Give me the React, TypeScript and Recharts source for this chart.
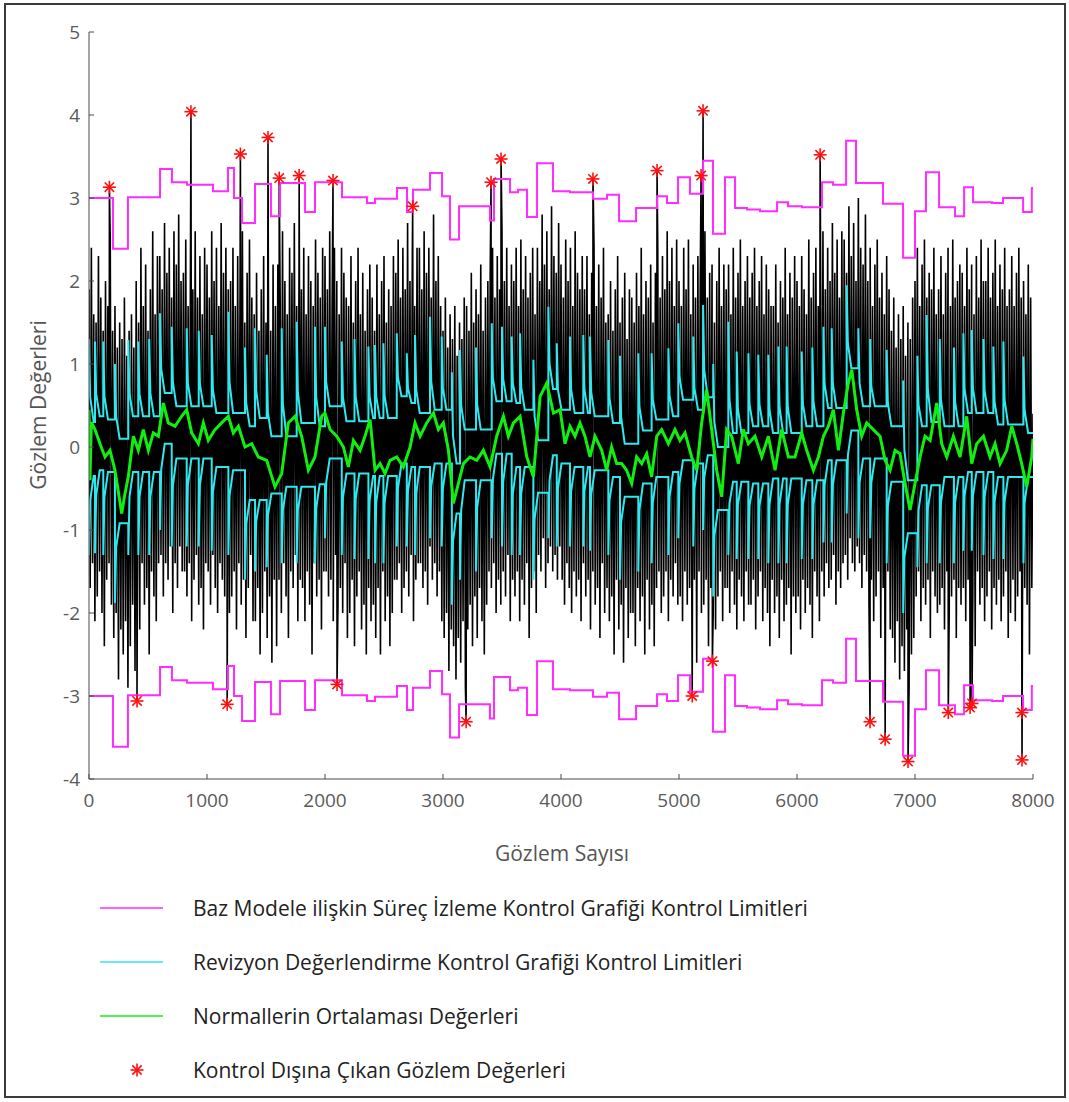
import React from 'react';
import { ComposedChart, Line, Scatter, XAxis, YAxis } from 'recharts';

const xTicks = [0, 1000, 2000, 3000, 4000, 5000, 6000, 7000, 8000];
const yTicks = [-4, -3, -2, -1, 0, 1, 2, 3, 4, 5];

// base model control limits (step changes)
const limitBreaks = [0, 203, 330, 602, 703, 831, 1051, 1178, 1229, 1297, 1407, 1542, 1619, 1831, 1915, 2144, 2356, 2424, 2610, 2695,
  2746, 2890, 2992, 3059, 3136, 3398, 3432, 3568, 3636, 3712, 3797, 3932, 4076, 4271, 4390, 4492, 4636, 4814, 4898, 4992,
  5093, 5204, 5288, 5390, 5475, 5577, 5687, 5831, 5924, 6043, 6212, 6305, 6416, 6500, 6729, 6899, 7000, 7093, 7204, 7339,
  7416, 7492, 7653, 7746, 7916, 7990];
const baseUpper = [3.0, 2.39, 3.01, 3.35, 3.19, 3.16, 3.08, 3.36, 3.0, 2.7, 3.17, 2.78, 3.18, 2.83, 3.19, 3.01, 2.94, 2.99, 3.12, 2.83,
  3.1, 3.3, 3.02, 2.5, 2.9, 2.73, 3.23, 3.07, 3.1, 2.77, 3.42, 3.08, 3.07, 2.99, 3.04, 2.72, 2.88, 3.02, 2.94, 3.25,
  3.05, 3.45, 2.57, 3.25, 2.88, 2.86, 2.84, 2.95, 2.9, 2.89, 3.19, 3.16, 3.69, 3.18, 2.93, 2.28, 2.84, 3.31, 2.89, 2.78,
  3.13, 2.95, 2.94, 3.0, 2.83, 3.12];
const baseLower = [-3.0, -3.61, -2.99, -2.65, -2.81, -2.84, -2.92, -2.64, -3.0, -3.3, -2.83, -3.22, -2.82, -3.17, -2.81, -2.99, -3.06, -3.01, -2.88, -3.17,
  -2.9, -2.7, -2.98, -3.5, -3.1, -3.27, -2.77, -2.93, -2.9, -3.23, -2.58, -2.92, -2.93, -3.01, -2.96, -3.28, -3.12, -2.98, -3.06, -2.75,
  -2.95, -2.55, -3.43, -2.75, -3.12, -3.14, -3.16, -3.05, -3.1, -3.11, -2.81, -2.84, -2.31, -2.82, -3.07, -3.72, -3.16, -2.69, -3.11, -3.22,
  -2.87, -3.05, -3.06, -3.0, -3.17, -2.88];

// revision chart limits: reset points, peak, knee and settled level
const revResetAt = [0, 51, 121, 220, 333, 418, 510, 602, 701, 828, 930, 1040, 1181, 1322, 1407, 1506, 1633, 1760, 1915, 2000,
  2142, 2250, 2368, 2424, 2495, 2608, 2693, 2763, 2890, 2989, 3075, 3144, 3280, 3413, 3500, 3582, 3653, 3766, 3893, 3964,
  4076, 4189, 4246, 4401, 4500, 4655, 4768, 4910, 4994, 5121, 5204, 5290, 5418, 5489, 5588, 5672, 5757, 5842, 5912, 6040,
  6130, 6224, 6294, 6421, 6520, 6620, 6760, 6900, 7020, 7099, 7210, 7330, 7410, 7481, 7580, 7664, 7749, 7919];
const revUpperPeak = [1.3, 1.27, 1.27, 1.0, 1.29, 1.27, 1.3, 1.61, 1.45, 1.43, 1.4, 1.35, 1.63, 1.2, 1.43, 1.11, 1.43, 1.51, 1.45, 1.45,
  1.27, 1.3, 1.21, 1.23, 1.25, 1.37, 1.13, 1.35, 1.57, 1.33, 0.9, 1.17, 1.2, 1.49, 1.45, 1.33, 1.37, 1.05, 1.69, 1.25,
  1.33, 1.35, 1.33, 1.29, 1.1, 1.13, 1.13, 1.19, 1.49, 1.33, 1.71, 1.0, 1.51, 1.15, 1.13, 1.11, 1.11, 1.21, 1.21, 1.15,
  1.2, 1.45, 1.43, 1.95, 1.43, 1.3, 1.17, 0.8, 1.1, 1.59, 1.3, 1.2, 1.37, 1.41, 1.3, 1.21, 1.27, 1.09];
const revUpperKnee = [0.6, 0.64, 0.61, 0.37, 0.65, 0.64, 0.65, 0.94, 0.78, 0.77, 0.76, 0.69, 0.78, 0.53, 0.68, 0.42, 0.52, 0.66, 0.61, 0.78,
  0.6, 0.61, 0.61, 0.61, 0.62, 0.84, 0.71, 0.69, 0.79, 0.71, 0.13, 0.5, 0.51, 0.83, 0.82, 0.77, 0.72, 0.37, 1.0, 0.69,
  0.69, 0.69, 0.66, 0.59, 0.36, 0.48, 0.57, 0.62, 0.85, 0.71, 0.93, 0.3, 0.57, 0.46, 0.51, 0.51, 0.45, 0.48, 0.48, 0.52,
  0.54, 0.76, 0.76, 1.25, 0.77, 0.73, 0.53, -0.04, 0.51, 0.69, 0.57, 0.54, 0.7, 0.71, 0.68, 0.55, 0.57, 0.44];
const revUpperLevel = [0.3, 0.37, 0.33, 0.1, 0.37, 0.37, 0.37, 0.65, 0.49, 0.49, 0.49, 0.41, 0.41, 0.25, 0.35, 0.13, 0.13, 0.29, 0.25, 0.49,
  0.31, 0.31, 0.35, 0.35, 0.35, 0.61, 0.53, 0.41, 0.45, 0.45, -0.2, 0.21, 0.21, 0.55, 0.55, 0.53, 0.45, 0.08, 0.7, 0.45,
  0.41, 0.41, 0.37, 0.29, 0.04, 0.2, 0.33, 0.37, 0.57, 0.45, 0.6, 0.0, 0.17, 0.17, 0.25, 0.25, 0.17, 0.17, 0.17, 0.25,
  0.25, 0.47, 0.47, 0.95, 0.49, 0.49, 0.25, -0.4, 0.25, 0.3, 0.25, 0.25, 0.41, 0.41, 0.41, 0.27, 0.27, 0.17];
const revLowerPeak = [-1.3, -1.28, -1.3, -1.88, -1.3, -1.3, -1.3, -1.0, -1.2, -1.2, -1.2, -1.25, -1.3, -1.6, -1.5, -1.45, -1.4, -1.4, -1.4, -1.1,
  -1.3, -1.35, -1.35, -1.4, -1.4, -1.2, -1.2, -1.3, -1.1, -1.2, -1.9, -1.6, -1.5, -1.1, -1.2, -1.3, -1.3, -1.6, -1.1, -1.2,
  -1.2, -1.2, -1.25, -1.3, -1.6, -1.5, -1.4, -1.3, -1.1, -1.2, -1.0, -1.8, -1.3, -1.35, -1.35, -1.35, -1.4, -1.4, -1.4, -1.35,
  -1.35, -1.15, -1.15, -0.8, -1.1, -1.1, -1.4, -2.0, -1.45, -1.4, -1.4, -1.4, -1.25, -1.25, -1.3, -1.35, -1.35, -1.4];
const revLowerKnee = [-0.64, -0.58, -0.6, -1.21, -0.6, -0.6, -0.6, -0.27, -0.46, -0.46, -0.46, -0.54, -0.59, -0.93, -0.9, -0.83, -0.76, -0.76, -0.74, -0.43,
  -0.61, -0.63, -0.65, -0.67, -0.67, -0.5, -0.53, -0.56, -0.47, -0.5, -1.13, -0.76, -0.73, -0.39, -0.42, -0.56, -0.56, -0.87, -0.4, -0.5,
  -0.53, -0.53, -0.57, -0.64, -0.9, -0.76, -0.67, -0.6, -0.44, -0.5, -0.37, -1.07, -0.68, -0.7, -0.71, -0.71, -0.69, -0.69, -0.69, -0.69,
  -0.69, -0.46, -0.46, -0.1, -0.43, -0.43, -0.71, -1.33, -0.76, -0.74, -0.67, -0.67, -0.59, -0.59, -0.6, -0.66, -0.66, -0.67];
const revLowerLevel = [-0.35, -0.28, -0.3, -0.92, -0.3, -0.3, -0.3, 0.04, -0.14, -0.14, -0.14, -0.24, -0.28, -0.64, -0.64, -0.56, -0.48, -0.48, -0.45, -0.14,
  -0.32, -0.32, -0.35, -0.35, -0.35, -0.2, -0.24, -0.24, -0.2, -0.2, -0.8, -0.4, -0.4, -0.08, -0.08, -0.24, -0.24, -0.55, -0.1, -0.2,
  -0.24, -0.24, -0.28, -0.36, -0.6, -0.44, -0.36, -0.3, -0.16, -0.2, -0.1, -0.76, -0.42, -0.42, -0.44, -0.44, -0.38, -0.38, -0.38, -0.4,
  -0.4, -0.16, -0.16, 0.2, -0.14, -0.14, -0.42, -1.04, -0.46, -0.46, -0.36, -0.36, -0.3, -0.3, -0.3, -0.36, -0.36, -0.36];

// mean of normals [observation, value]
const meanPoints: [number, number][] = [
  [0, 0.45], [8, -0.4], [20, 0.3], [51, 0.21], [93, 0.04], [136, -0.12], [178, -0.04], [220, -0.28], [250, -0.55], [277, -0.8],
  [300, -0.6], [333, -0.36], [376, 0.13], [418, -0.04], [460, 0.21], [503, -0.04], [545, 0.17], [588, 0.13], [630, 0.53], [672, 0.29],
  [729, 0.25], [785, 0.37], [828, 0.45], [870, 0.17], [927, 0.04], [969, 0.29], [1011, 0.08], [1068, 0.21], [1124, 0.29], [1181, 0.37],
  [1223, 0.17], [1266, 0.25], [1322, 0.0], [1379, 0.04], [1435, -0.12], [1506, -0.16], [1576, -0.48], [1633, -0.32], [1689, 0.29], [1746, 0.37],
  [1802, 0.13], [1859, -0.28], [1915, -0.12], [1972, 0.37], [2000, 0.41], [2043, 0.21], [2099, 0.13], [2156, 0.0], [2198, -0.24], [2241, 0.08],
  [2297, -0.04], [2339, 0.13], [2382, 0.33], [2424, -0.28], [2467, -0.2], [2509, -0.32], [2551, -0.16], [2608, -0.12], [2664, -0.24], [2721, 0.0],
  [2763, 0.29], [2806, 0.13], [2862, 0.29], [2919, 0.41], [2961, 0.21], [3003, 0.29], [3046, -0.04], [3088, -0.68], [3130, -0.44], [3173, -0.2],
  [3229, -0.12], [3286, -0.16], [3342, -0.04], [3399, -0.24], [3455, 0.13], [3512, 0.37], [3554, 0.13], [3597, 0.29], [3653, 0.37], [3710, -0.12],
  [3766, -0.36], [3823, 0.61], [3879, 0.77], [3936, 0.41], [3992, 0.45], [4034, 0.04], [4076, 0.25], [4119, 0.13], [4161, 0.29], [4203, 0.13],
  [4246, -0.12], [4288, 0.13], [4345, -0.04], [4387, -0.28], [4429, 0.0], [4472, -0.2], [4514, -0.2], [4556, -0.28], [4599, -0.44], [4641, -0.12],
  [4684, -0.2], [4726, -0.08], [4768, -0.36], [4811, 0.13], [4853, 0.21], [4910, 0.04], [4966, 0.21], [5008, 0.08], [5051, 0.17], [5107, -0.12],
  [5150, -0.28], [5192, 0.29], [5234, 0.69], [5277, 0.21], [5319, -0.28], [5362, -0.6], [5404, 0.21], [5446, 0.13], [5503, -0.2], [5545, 0.21],
  [5588, 0.04], [5644, 0.13], [5701, -0.12], [5757, 0.13], [5814, -0.28], [5870, 0.21], [5927, -0.12], [5983, -0.12], [6040, 0.17], [6082, -0.04],
  [6139, -0.28], [6181, -0.12], [6224, 0.13], [6266, 0.25], [6308, 0.45], [6351, -0.04], [6393, 0.41], [6435, 0.77], [6464, 0.93], [6506, 0.45],
  [6548, 0.13], [6591, 0.29], [6647, 0.21], [6704, 0.13], [6746, -0.16], [6789, -0.28], [6831, -0.04], [6873, -0.08], [6916, -0.44], [6958, -0.76],
  [7000, -0.44], [7043, -0.12], [7085, 0.13], [7128, 0.08], [7184, 0.53], [7226, 0.04], [7269, -0.12], [7325, 0.13], [7382, -0.12], [7438, 0.37],
  [7481, -0.2], [7523, 0.04], [7580, 0.13], [7636, -0.12], [7678, 0.04], [7721, -0.2], [7777, -0.04], [7820, 0.25], [7862, 0.04], [7904, -0.2],
  [7947, -0.48], [7989, -0.12], [8000, 0.1],
];

// observations, one value every 10 observations
const obsStep = 10;
const obsValues = [
  1.9, -1.7, 2.4, -1.4, 1.6, -2.1, 1.5, -1.8, 2.3, -1.5, 1.8, -2.0, 1.4, -2.4, 2.0, -1.6, 1.7, -1.4, 2.5, -1.9,
  1.4, -2.3, 1.7, -2.0, 1.2, -2.8, 1.5, -2.2, 1.3, -2.5, 1.8, -2.1, 1.1, -2.9, 1.4, -2.4, 1.6, -1.9, 1.2, -2.7,
  2.0, -1.6, 1.5, -2.2, 2.4, -1.4, 1.7, -1.9, 2.2, -1.7, 1.4, -2.5, 1.9, -1.5, 2.6, -1.8, 1.6, -2.1, 2.3, -1.4,
  2.3, -1.3, 1.9, -1.8, 2.7, -1.4, 2.1, -1.6, 2.4, -1.2, 1.8, -2.0, 2.6, -1.4, 2.2, -1.7, 2.8, -1.2, 2.0, -1.5,
  2.1, -1.5, 2.5, -1.8, 1.7, -1.4, 2.3, -2.1, 1.9, -1.6, 2.6, -1.3, 1.8, -1.9, 2.3, -1.7, 1.6, -2.2, 2.4, -1.4,
  2.2, -1.5, 1.8, -1.9, 2.6, -1.3, 2.0, -1.7, 2.4, -2.0, 1.7, -1.4, 2.7, -1.6, 2.1, -1.8, 2.4, -1.2, 1.9, -2.0,
  2.0, -1.8, 2.4, -1.5, 1.7, -2.2, 2.3, -1.4, 1.9, -1.9, 2.6, -1.6, 1.5, -2.3, 2.1, -1.7, 2.5, -1.3, 1.8, -2.1,
  1.6, -2.1, 2.1, -1.7, 1.4, -2.5, 1.9, -2.0, 2.3, -1.5, 1.5, -2.3, 2.0, -1.8, 1.4, -2.6, 2.2, -1.6, 1.7, -2.4,
  2.2, -1.6, 1.8, -2.0, 2.6, -1.4, 2.0, -1.8, 1.6, -2.3, 2.4, -1.5, 2.1, -1.7, 2.7, -1.3, 1.7, -2.1, 2.3, -1.6,
  1.9, -1.7, 2.4, -2.1, 1.6, -1.5, 2.3, -1.9, 2.0, -2.5, 1.7, -1.4, 2.5, -1.8, 2.1, -1.6, 1.8, -2.2, 2.4, -1.5,
  2.3, -1.5, 1.9, -1.8, 2.6, -1.6, 1.7, -2.1, 2.4, -1.3, 2.0, -1.9, 1.6, -1.7, 2.4, -2.0, 2.1, -1.4, 1.8, -2.3,
  1.7, -2.0, 2.3, -1.6, 1.5, -2.4, 2.0, -1.8, 2.4, -1.5, 1.6, -2.2, 2.1, -1.9, 1.4, -2.5, 1.9, -1.7, 2.2, -2.1,
  1.8, -1.9, 1.4, -2.3, 2.2, -1.7, 1.6, -2.5, 2.0, -1.5, 2.3, -2.1, 1.5, -1.8, 1.9, -2.4, 1.7, -2.0, 2.3, -1.6,
  2.1, -1.6, 2.5, -1.4, 1.8, -2.0, 2.4, -1.7, 1.9, -1.5, 2.7, -1.8, 2.0, -1.3, 2.3, -2.1, 1.7, -1.6, 2.4, -1.4,
  2.4, -1.4, 1.9, -1.7, 2.6, -1.5, 2.1, -1.9, 2.4, -1.2, 1.8, -1.6, 2.8, -1.4, 2.0, -1.8, 2.3, -1.5, 1.7, -2.1,
  1.4, -2.3, 1.8, -2.0, 1.2, -2.7, 1.6, -2.2, 1.3, -2.4, 1.7, -2.8, 1.1, -2.3, 1.5, -2.6, 1.3, -2.1, 1.8, -2.9,
  1.7, -2.2, 1.4, -1.9, 2.1, -2.4, 1.5, -1.8, 1.9, -2.3, 1.6, -1.7, 2.2, -2.1, 1.4, -2.5, 1.8, -1.9, 2.0, -1.5,
  2.1, -1.7, 2.4, -1.4, 1.8, -2.0, 2.3, -1.6, 1.9, -1.9, 2.6, -1.5, 2.0, -1.8, 2.4, -1.3, 1.7, -2.1, 2.2, -1.6,
  2.0, -1.8, 2.4, -1.5, 1.7, -2.1, 2.5, -1.6, 1.9, -1.9, 2.3, -1.4, 1.8, -2.3, 2.1, -1.7, 2.4, -1.5, 1.6, -2.0,
  2.4, -1.3, 2.0, -1.5, 2.8, -1.1, 2.2, -1.7, 2.6, -1.4, 1.9, -1.2, 2.9, -1.5, 2.3, -1.3, 2.1, -1.6, 2.7, -1.2,
  2.2, -1.6, 1.8, -1.9, 2.5, -1.4, 2.0, -1.7, 2.4, -2.0, 1.7, -1.5, 2.6, -1.8, 2.1, -1.6, 1.9, -2.1, 2.3, -1.4,
  1.9, -1.8, 2.3, -1.6, 1.6, -2.2, 2.1, -1.5, 2.4, -1.9, 1.7, -1.7, 2.2, -2.3, 1.8, -1.4, 2.4, -2.0, 1.5, -1.7,
  1.6, -2.1, 2.0, -1.8, 1.4, -2.5, 1.9, -1.6, 2.3, -2.2, 1.5, -1.9, 1.8, -2.6, 2.1, -1.7, 1.3, -2.3, 1.9, -2.0,
  1.8, -2.0, 1.5, -2.4, 2.1, -1.7, 1.7, -2.1, 2.4, -1.8, 1.6, -2.5, 2.0, -1.6, 1.8, -2.2, 2.2, -1.9, 1.5, -2.4,
  2.1, -1.7, 2.4, -1.5, 1.8, -2.0, 2.3, -1.8, 1.9, -1.5, 2.6, -2.1, 2.0, -1.6, 2.4, -1.8, 1.7, -1.4, 2.5, -1.9,
  2.0, -1.8, 1.7, -2.1, 2.4, -1.5, 1.9, -1.9, 2.5, -1.7, 1.6, -2.3, 2.2, -1.6, 1.8, -2.6, 2.3, -1.5, 2.0, -2.0,
  2.3, -1.9, 2.6, -1.6, 1.8, -2.4, 2.1, -1.7, 2.2, -2.0, 1.5, -2.2, 2.0, -1.8, 2.4, -1.5, 1.7, -2.1, 2.2, -1.7,
  1.9, -1.7, 2.2, -2.0, 1.6, -1.5, 2.4, -1.9, 1.8, -2.2, 2.1, -1.6, 2.5, -1.8, 1.7, -2.1, 2.0, -1.5, 2.3, -1.9,
  1.8, -1.9, 2.1, -1.6, 2.4, -2.2, 1.7, -1.8, 2.0, -1.5, 2.3, -2.1, 1.6, -1.7, 2.2, -2.0, 1.9, -2.4, 1.7, -1.6,
  1.7, -2.0, 2.2, -1.8, 1.5, -2.3, 2.0, -1.6, 1.8, -2.1, 2.4, -1.9, 1.6, -1.7, 2.1, -2.5, 1.8, -1.8, 2.3, -2.0,
  2.0, -1.8, 1.7, -2.2, 2.3, -1.6, 1.9, -2.0, 1.6, -1.7, 2.5, -1.9, 1.8, -2.3, 2.1, -1.5, 2.4, -1.8, 1.7, -2.1,
  2.2, -1.5, 2.6, -1.8, 1.9, -1.4, 2.4, -1.7, 2.0, -1.6, 2.7, -1.3, 2.1, -1.9, 2.5, -1.5, 1.8, -1.7, 2.6, -1.4,
  2.5, -1.3, 2.1, -1.6, 2.9, -1.1, 2.3, -1.4, 2.7, -1.5, 2.0, -1.2, 3.0, -1.4, 2.4, -1.7, 2.2, -1.3, 2.8, -1.5,
  2.0, -1.9, 2.4, -1.6, 1.7, -2.1, 2.2, -1.8, 2.5, -1.5, 1.8, -2.3, 2.1, -1.7, 1.6, -2.0, 2.3, -1.5, 1.9, -2.2,
  1.4, -2.3, 1.8, -2.6, 1.2, -2.1, 1.6, -2.8, 1.3, -2.4, 1.7, -2.7, 1.1, -2.2, 1.5, -2.9, 1.3, -2.5, 1.8, -2.3,
  2.0, -1.8, 2.4, -1.5, 1.7, -2.1, 2.2, -1.7, 2.5, -1.9, 1.8, -1.6, 2.1, -2.3, 1.9, -1.5, 2.4, -1.8, 1.6, -2.0,
  1.9, -1.9, 2.3, -1.7, 1.6, -2.2, 2.1, -1.5, 2.4, -2.0, 1.7, -1.8, 2.5, -1.6, 1.8, -2.3, 2.0, -1.7, 2.2, -1.9,
  2.1, -1.7, 1.7, -2.1, 2.4, -1.6, 1.9, -2.0, 2.2, -1.8, 1.6, -2.4, 2.3, -1.5, 1.8, -1.9, 2.5, -1.7, 2.0, -2.1,
  2.0, -1.8, 2.4, -1.5, 1.8, -2.2, 2.1, -1.7, 2.5, -1.9, 1.7, -1.6, 2.2, -2.1, 1.9, -1.8, 2.4, -1.5, 1.7, -2.3,
  1.9, -2.0, 2.3, -1.6, 1.7, -2.1, 2.1, -1.8, 2.4, -1.5, 1.8, -2.3, 2.0, -1.7, 1.6, -1.9, 2.2, -2.5, 1.8, -1.7,
  0.4,
];

// out-of-control observations
const outAt = [173, 864, 1283, 1517, 1612, 1781, 2068, 2743, 3407, 3492, 4271, 4814, 5187, 5204, 6196,
  407, 1171, 2102, 3196, 5112, 5283, 6619, 6747, 6941, 7282, 7467, 7483, 7906, 7907];
const outValue = [3.13, 4.04, 3.53, 3.73, 3.24, 3.27, 3.21, 2.9, 3.19, 3.47, 3.23, 3.33, 3.27, 4.05, 3.52,
  -3.06, -3.1, -2.86, -3.31, -3.0, -2.58, -3.31, -3.52, -3.79, -3.2, -3.14, -3.09, -3.2, -3.77];

const legendItems = [
  { label: 'Baz Modele ilişkin Süreç İzleme Kontrol Grafiği Kontrol Limitleri', color: '#ff2bff', kind: 'line' },
  { label: 'Revizyon Değerlendirme Kontrol Grafiği Kontrol Limitleri', color: '#2ee8ee', kind: 'line' },
  { label: 'Normallerin Ortalaması Değerleri', color: '#10f010', kind: 'line' },
  { label: 'Kontrol Dışına Çıkan Gözlem Değerleri', color: '#ff1010', kind: 'star' },
];

const FONT = "'Open Sans', 'DejaVu Sans', sans-serif";

const obsData = obsValues
  .map((v, i) => ({ x: i * obsStep, y: v }))
  .concat(outAt.map((x, i) => ({ x, y: outValue[i] })))
  .sort((a, b) => a.x - b.x);

const stepData = (vals: number[]) => {
  const pts = limitBreaks.map((x, i) => ({ x, y: vals[i] }));
  pts.push({ x: 8000, y: vals[vals.length - 1] });
  return pts;
};

const revisionData = (peak: number[], knee: number[], level: number[]) => {
  const pts: { x: number; y: number }[] = [];
  revResetAt.forEach((r, i) => {
    if (i > 0) pts.push({ x: r, y: level[i - 1] });
    pts.push({ x: r, y: peak[i] });
    pts.push({ x: r + 10, y: knee[i] });
    pts.push({ x: r + 40, y: level[i] });
  });
  pts.push({ x: 8000, y: level[level.length - 1] });
  return pts;
};

const meanData = meanPoints.map(([x, y]) => ({ x, y }));
const outData = outAt.map((x, i) => ({ x, y: outValue[i] }));

const Asterisk = (props: any) => {
  const { cx, cy } = props;
  const r = 6.5;
  const d = r * 0.72;
  return (
    <g stroke="#ff1010" strokeWidth={1.6}>
      <line x1={cx - r} y1={cy} x2={cx + r} y2={cy} />
      <line x1={cx} y1={cy - r} x2={cx} y2={cy + r} />
      <line x1={cx - d} y1={cy - d} x2={cx + d} y2={cy + d} />
      <line x1={cx - d} y1={cy + d} x2={cx + d} y2={cy - d} />
    </g>
  );
};

const App: React.FC = () => {
  return (
    <div style={{ position: 'absolute', left: 0, top: 0, width: 1069, height: 1102, background: '#fff', fontFamily: FONT }}>
      <div style={{ position: 'absolute', left: 4, top: 3, width: 1062, height: 1095, border: '2px solid #3a3a3a', boxSizing: 'border-box' }} />
      <div style={{ position: 'absolute', left: 0, top: 0 }}>
        <ComposedChart width={1069} height={815} margin={{ top: 32, right: 36, bottom: 6, left: 0 }}>
          <XAxis
            type="number"
            dataKey="x"
            domain={[0, 8000]}
            ticks={xTicks}
            allowDataOverflow
            height={30}
            tickSize={-5}
            tickMargin={20}
            stroke="#4a4a4a"
            tick={{ fill: '#5a5a5a', fontSize: 19, fontFamily: FONT }}
          />
          <YAxis
            type="number"
            dataKey="y"
            domain={[-4, 5]}
            ticks={yTicks}
            allowDataOverflow
            width={89}
            tickSize={-5}
            tickMargin={14}
            stroke="#4a4a4a"
            tick={{ fill: '#5a5a5a', fontSize: 19, fontFamily: FONT }}
          />
          <Line data={obsData} dataKey="y" type="linear" stroke="#000" strokeWidth={1.6} dot={false} isAnimationActive={false} />
          <Line data={stepData(baseUpper)} dataKey="y" type="stepAfter" stroke="#ff2bff" strokeWidth={2} dot={false} isAnimationActive={false} />
          <Line data={stepData(baseLower)} dataKey="y" type="stepAfter" stroke="#ff2bff" strokeWidth={2} dot={false} isAnimationActive={false} />
          <Line data={revisionData(revUpperPeak, revUpperKnee, revUpperLevel)} dataKey="y" type="linear" stroke="#2ee8ee" strokeWidth={2} dot={false} isAnimationActive={false} />
          <Line data={revisionData(revLowerPeak, revLowerKnee, revLowerLevel)} dataKey="y" type="linear" stroke="#2ee8ee" strokeWidth={2} dot={false} isAnimationActive={false} />
          <Line data={meanData} dataKey="y" type="linear" stroke="#10f010" strokeWidth={3} dot={false} isAnimationActive={false} />
          <Scatter data={outData} dataKey="y" shape={Asterisk} isAnimationActive={false} />
        </ComposedChart>
      </div>
      <div style={{ position: 'absolute', left: 38 - 150, top: 405 - 15, width: 300, height: 30, lineHeight: '30px', textAlign: 'center', transform: 'rotate(-90deg)', fontSize: 21, color: '#555' }}>
        Gözlem Değerleri
      </div>
      <div style={{ position: 'absolute', left: 412, top: 838, width: 300, height: 30, lineHeight: '30px', textAlign: 'center', fontSize: 21, color: '#555' }}>
        Gözlem Sayısı
      </div>
      {legendItems.map((item, i) => {
        const cy = 908 + i * 54;
        return (
          <div key={item.label}>
            <svg style={{ position: 'absolute', left: 96, top: cy - 12 }} width={72} height={24}>
              {item.kind === 'line' ? (
                <line x1={4} y1={12} x2={67} y2={12} stroke={item.color} strokeWidth={1.6} />
              ) : (
                <Asterisk cx={41} cy={12} />
              )}
            </svg>
            <div style={{ position: 'absolute', left: 193, top: cy - 16, height: 32, lineHeight: '32px', fontSize: 21, color: '#222', whiteSpace: 'nowrap' }}>
              {item.label}
            </div>
          </div>
        );
      })}
    </div>
  );
};

export default App;
